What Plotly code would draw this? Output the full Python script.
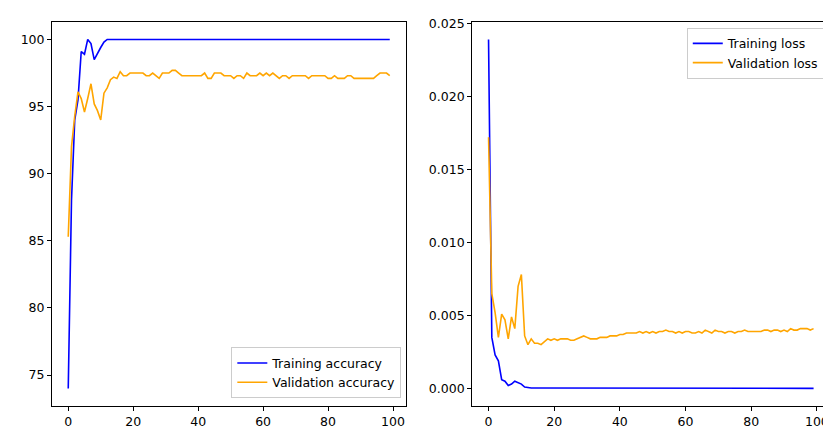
import plotly.graph_objects as go
from plotly.subplots import make_subplots

epochs = list(range(100))

train_acc = [74.0, 88.0, 94.0, 95.5, 99.1, 98.9, 100.0, 99.7, 98.5, 99.0, 99.4, 99.8] + [100.0] * 88
val_acc = [85.3, 92.0, 94.3, 96.1, 95.6, 94.6, 95.6, 96.7, 95.2, 94.7,
           94.0, 96.0, 96.4, 97.0, 97.2, 97.1, 97.6, 97.3, 97.3, 97.5,
           97.5, 97.5, 97.5, 97.5, 97.3, 97.3, 97.5, 97.3, 97.1, 97.5,
           97.5, 97.5, 97.7, 97.7, 97.5, 97.3, 97.3, 97.3, 97.3, 97.3,
           97.3, 97.3, 97.5, 97.1, 97.1, 97.5, 97.5, 97.5, 97.3, 97.3,
           97.3, 97.1, 97.3, 97.3, 97.1, 97.5, 97.3, 97.3, 97.3, 97.5,
           97.3, 97.5, 97.3, 97.5, 97.3, 97.1, 97.3, 97.3, 97.1, 97.3,
           97.3, 97.3, 97.3, 97.3, 97.1, 97.3, 97.3, 97.3, 97.3, 97.3,
           97.1, 97.1, 97.3, 97.1, 97.1, 97.1, 97.3, 97.3, 97.1, 97.1,
           97.1, 97.1, 97.1, 97.1, 97.1, 97.3, 97.5, 97.5, 97.5, 97.3]

train_loss = [0.0239, 0.0035, 0.0023, 0.0019, 0.0006, 0.0005, 0.0002, 0.0003, 0.0005, 0.0004,
              0.0003, 0.0001, 0.00005, 0.00003, 0.00003, 0.00003, 0.00004, 0.00003, 0.00002, 0.00002] + [0.00001] * 80
val_loss = [0.0172, 0.0065, 0.0052, 0.0035, 0.0051, 0.0047, 0.0034, 0.0049, 0.0041, 0.0070,
            0.0078, 0.0036, 0.0030, 0.0034, 0.0031, 0.0031, 0.0030, 0.0032, 0.0034, 0.0033,
            0.0034, 0.0033, 0.0034, 0.0034, 0.0034, 0.0033, 0.0033, 0.0034, 0.0035, 0.0036,
            0.0035, 0.0034, 0.0034, 0.0034, 0.0035, 0.0035, 0.0035, 0.0036, 0.0036, 0.0036,
            0.0037, 0.0037, 0.0038, 0.0038, 0.0038, 0.0038, 0.0039, 0.0038, 0.0039, 0.0038,
            0.0039, 0.0038, 0.0039, 0.0039, 0.0040, 0.0039, 0.0039, 0.0038, 0.0039, 0.0038,
            0.0039, 0.0039, 0.0038, 0.0038, 0.0039, 0.0038, 0.0040, 0.0039, 0.0038, 0.0040,
            0.0039, 0.0039, 0.0038, 0.0039, 0.0039, 0.0038, 0.0039, 0.0039, 0.0040, 0.0039,
            0.0039, 0.0039, 0.0039, 0.0039, 0.0040, 0.0040, 0.0039, 0.0040, 0.0040, 0.0039,
            0.0040, 0.0039, 0.0041, 0.0040, 0.0040, 0.0041, 0.0041, 0.0041, 0.0040, 0.0041]

fig = make_subplots(rows=1, cols=2, horizontal_spacing=0.084)

fig.add_trace(go.Scatter(x=epochs, y=train_acc, mode='lines', name='Training accuracy',
                         line=dict(color='blue', width=1.6), legend='legend'), row=1, col=1)
fig.add_trace(go.Scatter(x=epochs, y=val_acc, mode='lines', name='Validation accuracy',
                         line=dict(color='orange', width=1.6), legend='legend'), row=1, col=1)
fig.add_trace(go.Scatter(x=epochs, y=train_loss, mode='lines', name='Training loss',
                         line=dict(color='blue', width=1.6), legend='legend2'), row=1, col=2)
fig.add_trace(go.Scatter(x=epochs, y=val_loss, mode='lines', name='Validation loss',
                         line=dict(color='orange', width=1.6), legend='legend2'), row=1, col=2)

axis_style = dict(showline=True, mirror=True, linecolor='black', linewidth=1, ticks='outside',
                  ticklen=4, tickcolor='black', showgrid=False, zeroline=False,
                  tickfont=dict(family='DejaVu Sans', size=12.5, color='black'))
fig.update_xaxes(**axis_style, range=[-5, 104], tickvals=[0, 20, 40, 60, 80, 100])
fig.update_yaxes(**axis_style)
fig.update_xaxes(domain=[0, 0.455], row=1, col=1)
fig.update_xaxes(domain=[0.54, 1], row=1, col=2)
fig.update_yaxes(range=[72.7, 101.3], tickvals=[75, 80, 85, 90, 95, 100], row=1, col=1)
fig.update_yaxes(range=[-0.0012, 0.0251], tickvals=[0, 0.005, 0.01, 0.015, 0.02, 0.025],
                 tickformat='.3f', row=1, col=2)

leg = dict(bgcolor='white', bordercolor='#cccccc', borderwidth=1,
           font=dict(family='DejaVu Sans', size=12.5, color='black'))
fig.update_layout(
    width=831, height=433,
    margin=dict(l=44, r=8, t=12, b=35),
    plot_bgcolor='white', paper_bgcolor='white',
    legend=dict(**leg, x=0.449, y=0.02, xanchor='right', yanchor='bottom'),
    legend2=dict(**leg, x=0.992, y=0.985, xanchor='right', yanchor='top'),
)

fig.write_html("out.html")
